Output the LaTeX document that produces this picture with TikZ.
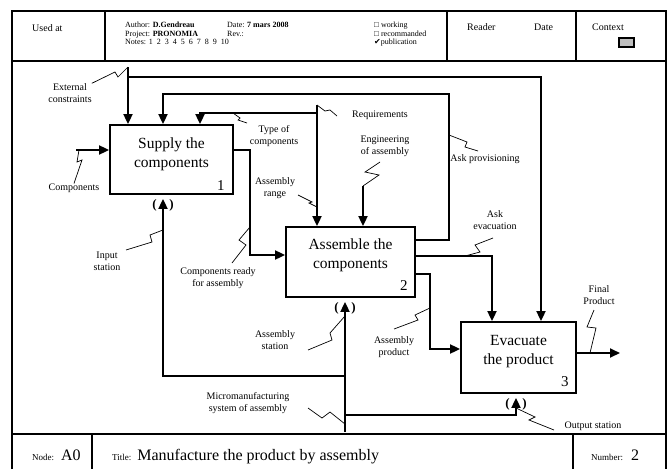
\documentclass[tikz,border=0pt]{standalone}
\usepackage{fontspec}
\setmainfont{Liberation Serif}
\newfontfamily\symfont{DejaVu Sans}
\usetikzlibrary{arrows.meta,calc}

\tikzset{
  box/.style={draw, line width=1.8pt, inner sep=0pt},
  boxtext/.style={align=center, font=\fontsize{15.5}{19}\selectfont, inner sep=0pt},
  num/.style={font=\fontsize{15}{18}\selectfont, inner sep=0pt},
  flow/.style={line width=1.8pt, -{Triangle[length=10pt,width=9pt]}},
  tunnel/.style={flow, shorten >=4pt},
  squig/.style={line width=0.7pt},
  lbl/.style={align=center, font=\fontsize{10}{12}\selectfont, inner sep=0pt},
  small/.style={align=left, font=\fontsize{8}{8.5}\selectfont, inner sep=0pt},
  paren/.style={font=\fontsize{13}{13}\selectfont\bfseries, inner sep=0pt},
  frame/.style={line width=1.8pt},
}

\begin{document}
\begin{tikzpicture}[x=1pt,y=-1pt]
\useasboundingbox (0,0) rectangle (669,469);

% frame
\draw[frame] (12,469) -- (12,11) -- (666,11) -- (666,469);
\draw[frame] (12,61) -- (666,61);
\draw[frame] (105,11) -- (105,61);
\draw[frame] (447,11) -- (447,61);
\draw[frame] (576,11) -- (576,61);
\draw[frame] (12,434) -- (666,434);
\draw[frame] (92,434) -- (92,469);
\draw[frame] (573,434) -- (573,469);

% header
\node[lbl, anchor=west] (usedat) at (32,28) {Used at};
\node[small, anchor=north west] (author) at (125,22) {Author: \textbf{D.Gendreau}\\Project: \textbf{PRONOMIA}\\Notes: 1\ \ 2\ \ 3\ \ 4\ \ 5\ \ 6\ \ 7\ \ 8\ \ 9\ \ 10};
\node[small, anchor=north west] (date) at (227,22) {Date: \textbf{7 mars 2008}\\Rev.:};
\node[small, anchor=north west] (status) at (374,22) {□ working\\□ recommanded\\{\symfont\bfseries ✔}publication};
\node[lbl, anchor=west] (reader) at (467,27) {Reader};
\node[lbl, anchor=west] (rdate) at (534,27) {Date};
\node[lbl, anchor=west] (context) at (592,27) {Context};
\node[draw, line width=1.3pt, fill=gray!50, minimum width=15pt, minimum height=9pt, inner sep=0pt] (ctxbox) at (626.5,42.5) {};

% footer
\node[anchor=base west, inner sep=0pt] (nodeid) at (32,460) {{\fontsize{9}{10}\selectfont Node:}\hspace{7pt}{\fontsize{16}{18}\selectfont A0}};
\node[anchor=base west, inner sep=0pt] (title) at (112,460) {{\fontsize{9}{10}\selectfont Title:}\hspace{6pt}{\fontsize{16}{18}\selectfont Manufacture the product by assembly}};
\node[anchor=base west, inner sep=0pt] (number) at (591,460) {{\fontsize{9}{10}\selectfont Number:}\hspace{8pt}{\fontsize{16}{18}\selectfont 2}};

% activities
\node[box, minimum width=123pt, minimum height=69pt] (1) at (171.5,159.5) {};
\node[box, minimum width=129pt, minimum height=70pt] (2) at (350.5,262) {};
\node[box, minimum width=115pt, minimum height=71pt] (3) at (518.5,357.5) {};
\node[boxtext] (t1) at ([yshift=5.5pt]1.center) {Supply the\\components};
\node[boxtext] (t2) at ([yshift=7pt]2.center) {Assemble the\\components};
\node[boxtext] (t3) at ([yshift=6pt]3.center) {Evacuate\\the product};
\node[num] (n1) at ($(1.south east)+(-13,-9)$) {1};
\node[num] (n2) at ($(2.south east)+(-12,-12)$) {2};
\node[num] (n3) at ($(3.south east)+(-12,-12)$) {3};

% arrow ends
\coordinate (ec) at (128,67);
\coordinate (ecb) at (128,77);
\coordinate (ecr) at (541,77);
\coordinate (rq) at (317,105);
\coordinate (rqb) at (317,113);
\coordinate (ap) at (449,94);
\coordinate (eng) at (363,186);
\coordinate (cin) at (76,150);
\coordinate (cr) at (250,255);
\coordinate (apd) at (430,349);
\coordinate (fp) at (620,353);
\coordinate (mm) at (345,432);
\coordinate (mm1) at (345,376);
\coordinate (mm3) at (345,415);

\draw[flow] (ec) -- (ec |- 1.north);
\draw[flow] (ecb) -- (ecr) -- (ecr |- 3.north);
\draw[flow] (rq) -- (rq |- 2.north);
\draw[flow] (rqb) -| (1.north -| 200,0);
\draw[flow] (2.east |- 0,240) -| (ap) -| (1.north -| 163,0);
\draw[flow] (eng) -- (eng |- 2.north);
\draw[flow] (cin) -- (cin -| 1.west);
\draw[flow] (1.east |- 0,150) -| (cr) -- (cr -| 2.west);
\draw[flow] (2.east |- 0,256) -| (3.north -| 492,0);
\draw[flow] (2.east |- 0,274) -| (apd) -- (apd -| 3.west);
\draw[flow] (3.east |- 0,353) -- (fp);
\draw[tunnel] (mm) -- (mm |- 2.south);
\draw[tunnel] (mm1) -| (1.south -| 163,0);
\draw[tunnel] (mm3) -| (3.south -| 516,0);

% tunnelled mechanisms
\node[paren] (pl1) at ($(1.south -| 163,0)+(-8.5,10)$) {(};
\node[paren] (pr1) at ($(1.south -| 163,0)+(8.5,10)$) {)};
\node[paren] (pl2) at ($(2.south -| 345,0)+(-8.5,10)$) {(};
\node[paren] (pr2) at ($(2.south -| 345,0)+(8.5,10)$) {)};
\node[paren] (pl3) at ($(3.south -| 516,0)+(-8.5,10)$) {(};
\node[paren] (pr3) at ($(3.south -| 516,0)+(8.5,10)$) {)};

% labels
\node[lbl] (lec) at (70,93) {External\\constraints};
\node[lbl] (lcomp) at (74,188) {Components};
\node[lbl] (ltype) at (274,136) {Type of\\components};
\node[lbl] (lreq) at (380,115) {Requirements};
\node[lbl] (lrange) at (275,188) {Assembly\\range};
\node[lbl] (leng) at (385,146) {Engineering\\of assembly};
\node[lbl] (lprov) at (485,159) {Ask provisioning};
\node[lbl] (leva) at (495,220) {Ask\\evacuation};
\node[lbl] (lready) at (218,278) {Components ready\\for assembly};
\node[lbl] (linput) at (107,261) {Input\\station};
\node[lbl] (lastat) at (275,340) {Assembly\\station};
\node[lbl] (lprod) at (394,347) {Assembly\\product};
\node[lbl] (lfinal) at (599,295) {Final\\Product};
\node[lbl] (lmicro) at (248,403) {Micromanufacturing\\system of assembly};
\node[lbl] (lout) at (593,426) {Output station};

% squiggles
\draw[squig] (lec.north east) -- (115,72) -- (118,77) -- (ec);
\draw[squig] (79,150) -- (77,162) -- (82,160) -- (lcomp.north);
\draw[squig] (233,113) -- (240,118) -- (238,120) -- (247,123);
\draw[squig] (rq) -- (325,111) -- (330,110) -- (337,116);
\draw[squig] (298,195) -- (312,202) -- (309,203) -- (317,207);
\draw[squig] (380,162) -- (365,172) -- (379,175) -- (eng);
\draw[squig] (449,135) -- (467,142) -- (465,147) -- (478,151);
\draw[squig] (493,238) -- (475,245) -- (480,252) -- (465,256);
\draw[squig] (250,227) -- (239,240) -- (246,245) -- (232,263);
\draw[squig] (163,230) -- (150,235) -- (152,242) -- (126,250);
\draw[squig] (308,350) -- (332,340) -- (330,333) -- (345,316);
\draw[squig] (308,408) -- (322,418) -- (330,412) -- (345,424);
\draw[squig] (394,329) -- (418,320) -- (415,315) -- (430,308);
\draw[squig] (594,310) -- (587,327) -- (596,328) -- (590,353);
\draw[squig] (554,430) -- (529,420) -- (535,417) -- (516,408);
\end{tikzpicture}
\end{document}
